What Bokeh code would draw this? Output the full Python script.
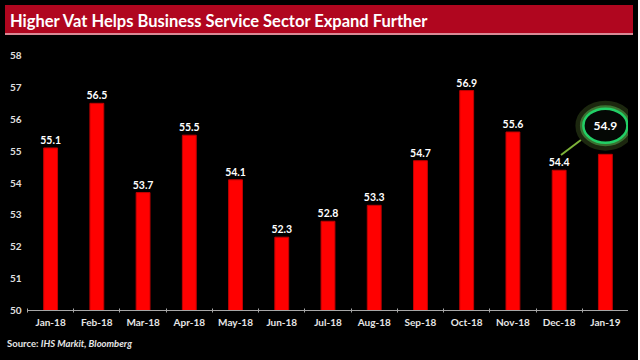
from bokeh.plotting import figure
from bokeh.models import Div, FixedTicker, ColumnDataSource
from bokeh.layouts import column
from bokeh.core.properties import value
from bokeh.embed import file_html
from bokeh.resources import INLINE

months = ["Jan-18", "Feb-18", "Mar-18", "Apr-18", "May-18", "Jun-18", "Jul-18",
          "Aug-18", "Sep-18", "Oct-18", "Nov-18", "Dec-18", "Jan-19"]
pmi = [55.1, 56.5, 53.7, 55.5, 54.1, 52.3, 52.8, 53.3, 54.7, 56.9, 55.6, 54.4, 54.9]
y_ticks = [50, 51, 52, 53, 54, 55, 56, 57, 58]
title_text = "Higher Vat Helps Business Service Sector Expand Further"
source_label = "Source:"
source_names = "IHS Markit, Bloomberg"

FONT = "Lato"
W = 628
xs = list(range(len(months)))

title_div = Div(
    text=f'<div style="font-family:{FONT};font-weight:bold;font-size:16.5px;color:#ffffff;'
         f'padding:5px 0 0 5px;white-space:nowrap;">{title_text}</div>',
    width=W, height=30,
    styles={"background-color": "#B0061F", "border-bottom": "2px solid #D98A96",
            "box-sizing": "border-box"},
)

p = figure(width=W, height=290, x_range=(-0.5, len(months) - 0.5),
           y_range=(y_ticks[0], y_ticks[-1]),
           output_backend="svg", toolbar_location=None,
           background_fill_color="black", border_fill_color="black",
           outline_line_color=None,
           min_border_left=27, min_border_right=0, min_border_top=15, min_border_bottom=18)
p.grid.visible = False

src = ColumnDataSource(dict(x=xs, y=pmi))
p.vbar(x="x", top="y", bottom=y_ticks[0], width=0.3, source=src,
       fill_color="#FF0000", line_color="#C00000", line_width=1)

lab_src = ColumnDataSource(dict(x=xs[:-1], y=pmi[:-1], t=[f"{v:.1f}" for v in pmi[:-1]]))
p.text(x="x", y="y", text="t", source=lab_src, text_align="center", text_baseline="bottom",
       y_offset=-4, text_color="white", text_font=value(FONT), text_font_style="bold",
       text_font_size="10.5px")

# highlight of the last value
hx = xs[-1]
hy = pmi[-1] + 0.9
p.line(x=[xs[-2] + 0.04, xs[-2] + 0.47], y=[pmi[-2] + 0.48, pmi[-2] + 0.95],
       line_color="#8CC63F", line_width=2, line_alpha=0.9)
p.ellipse(x=[hx], y=[hy], width=52, height=42, width_units="screen", height_units="screen",
          fill_color=None, line_color="#8BC34A", line_alpha=0.2, line_width=8)
p.ellipse(x=[hx], y=[hy], width=47, height=37, width_units="screen", height_units="screen",
          fill_color=None, line_color="#5FCF5A", line_alpha=0.45, line_width=4)
p.ellipse(x=[hx], y=[hy], width=44, height=34, width_units="screen", height_units="screen",
          fill_color="#050805", line_color="#22D066", line_width=2.5)
p.text(x=[hx], y=[hy], text=[f"{pmi[-1]:.1f}"], text_align="center", text_baseline="middle",
       text_color="white", text_font=value(FONT), text_font_style="bold",
       text_font_size="12px")

# axes
p.yaxis.ticker = FixedTicker(ticks=y_ticks)
p.yaxis.axis_line_color = None
p.yaxis.major_tick_line_color = None
p.yaxis.major_tick_out = 0
p.yaxis.major_tick_in = 0
p.yaxis.minor_tick_line_color = None
p.yaxis.major_label_text_color = "#E0E0E0"
p.yaxis.major_label_text_font = FONT
p.yaxis.major_label_text_font_style = "bold"
p.yaxis.major_label_text_font_size = "10px"
p.yaxis.major_label_standoff = 6

p.xaxis.ticker = FixedTicker(ticks=xs, minor_ticks=[i - 0.5 for i in range(len(months) + 1)])
p.xaxis.major_label_overrides = {i: m for i, m in enumerate(months)}
p.xaxis.axis_line_color = "#A6A6A6"
p.xaxis.major_tick_line_color = None
p.xaxis.major_tick_out = 0
p.xaxis.major_tick_in = 0
p.xaxis.minor_tick_line_color = "#A6A6A6"
p.xaxis.minor_tick_in = 2
p.xaxis.minor_tick_out = 2
p.xaxis.major_label_text_color = "#E6E6E6"
p.xaxis.major_label_text_font = FONT
p.xaxis.major_label_text_font_style = "bold"
p.xaxis.major_label_text_font_size = "10px"
p.xaxis.major_label_standoff = 3

source_div = Div(
    text=f'<div style="font-family:{FONT};font-weight:bold;font-size:9.5px;color:#E6E6E6;'
         f'padding:2px 0 0 2px;white-space:nowrap;">{source_label} <i>{source_names}</i></div>',
    width=W, height=24, styles={"background-color": "black"},
)

layout = column(title_div, p, source_div, spacing=0, styles={"background-color": "black"})

html = file_html(layout, INLINE)
html = html.replace("<body>", '<body style="background-color:#000000;overflow:hidden;">', 1)
open("out.html", "w").write(html)
